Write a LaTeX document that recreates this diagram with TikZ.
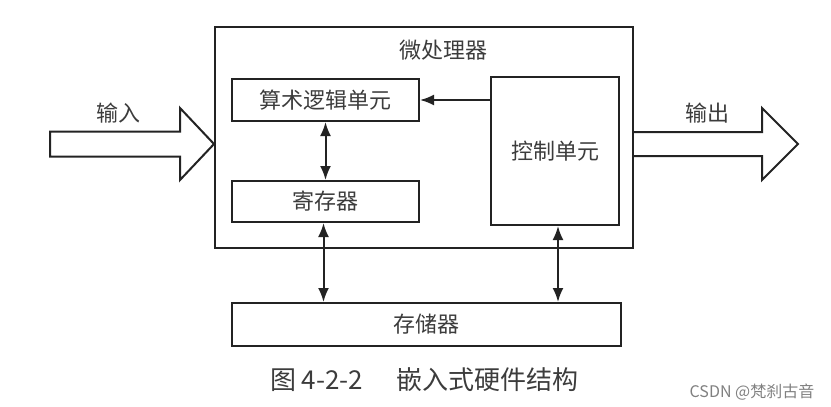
\documentclass[tikz,border=0pt]{standalone}
\usepackage{fontspec}
\newfontfamily\cjk{Noto Sans CJK SC}
\usepackage{tikz}
\usetikzlibrary{calc,positioning,arrows.meta}
\usepackage{xcolor}
\definecolor{inkc}{RGB}{35,35,35}
\definecolor{txtc}{RGB}{60,60,60}
\tikzset{
  blk/.style={rectangle,draw=inkc,line width=2pt,inner sep=0pt,font=\cjk\fontsize{22}{26}\selectfont,text=txtc},
  lnk/.style={{Latex[length=14pt,width=11pt]}-{Latex[length=14pt,width=11pt]},line width=2pt,inkc},
  fat/.style={draw=inkc,line width=2pt,fill=white,line join=miter},
  lbl/.style={font=\cjk\fontsize{22}{26}\selectfont,text=txtc,inner sep=0pt},
  wm/.style={font=\cjk\fontsize{16}{20}\selectfont,text=black!50,inner sep=0pt},
}

\begin{document}
\begin{tikzpicture}[x=1pt,y=-1pt]
  \useasboundingbox (0,0) rectangle (831,407);
  % boxes
  \node[blk,minimum width=418pt,minimum height=221pt](mpu) at (424,137.5){};
  \node[lbl](mpuT) at (443,50){微处理器};
  \node[blk,minimum width=187pt,minimum height=42pt](alu) at (325.5,100){算术逻辑单元};
  \node[blk,minimum width=187pt,minimum height=41pt](reg) at (325.5,201.5){寄存器};
  \node[blk,minimum width=128pt,minimum height=148pt](ctrl) at (555,151){控制单元};
  \node[blk,minimum width=389pt,minimum height=43pt](mem) at (426.5,324.5){存储器};
  % links
  \draw[lnk,{Latex[length=14pt,width=11pt]}-] (alu.east) -- (ctrl.west |- alu.east);
  \draw[lnk] (alu.south) -- (reg.north);
  \draw[lnk] ([xshift=-2pt]reg.south) -- ([xshift=-2pt]reg.south |- mem.north);
  \draw[lnk] ([xshift=3pt]ctrl.south) -- ([xshift=3pt]ctrl.south |- mem.north);
  % in / out
  \draw[fat] (50,131.5) -- (180,131.5) -- (180,108) -- (mpu.west |- 0,144) -- (180,180) -- (180,156.5) -- (50,156.5) -- cycle;
  \draw[fat] (mpu.east |- 0,132) -- (762,132) -- (762,108) -- (798,144) -- (762,180) -- (762,156) -- (mpu.east |- 0,156);
  \node[lbl](inT) at (118,113){输入};
  \node[lbl](outT) at (707,113){输出};
  % caption
  \node[lbl,font=\cjk\fontsize{26}{30}\selectfont](capT) at (424.5,380){图~4-2-2\hspace{1.3em}嵌入式硬件结构};
  \node[wm](mark) at (752,392){CSDN @梵刹古音};
\end{tikzpicture}
\end{document}
